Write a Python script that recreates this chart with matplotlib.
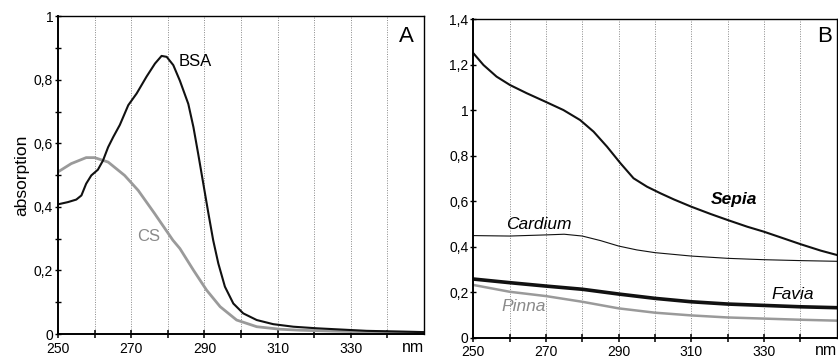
import numpy as np
import matplotlib
matplotlib.use('Agg')
import matplotlib.pyplot as plt
from matplotlib.ticker import FuncFormatter, MultipleLocator, FixedLocator

plt.rcParams['font.family'] = ['Liberation Sans', 'DejaVu Sans']

# panel A: BSA and CS
bsaX = [250, 252.7, 255, 256.4, 257.7, 259.1, 260.9, 262.3, 263.7, 265.1, 266.9, 269.2, 271.5,
        274.2, 276.5, 278.3, 279.7, 281.5, 283.3, 285.6, 287.0, 288.3, 289.7, 291.1, 292.4, 293.8,
        295.6, 297.9, 300.6, 304.3, 308.8, 314.3, 320.7, 334.3, 350]
bsaY = [0.408, 0.415, 0.423, 0.436, 0.473, 0.499, 0.517, 0.546, 0.588, 0.62, 0.658, 0.72, 0.757,
        0.81, 0.851, 0.875, 0.872, 0.846, 0.797, 0.724, 0.651, 0.567, 0.473, 0.379, 0.295, 0.222,
        0.149, 0.096, 0.065, 0.044, 0.031, 0.023, 0.018, 0.010, 0.006]
csX = [250, 253.6, 257.7, 260, 263.7, 268.2, 271.9, 276.4, 281.4, 283.3, 287, 290.6, 294.3,
       298.8, 304.3, 310.7, 316.1, 325.2, 334.3, 350]
csY = [0.510, 0.536, 0.555, 0.555, 0.541, 0.499, 0.452, 0.379, 0.295, 0.269, 0.201, 0.138, 0.086,
       0.044, 0.023, 0.015, 0.012, 0.009, 0.007, 0.005]

# panel B: shells
sepiaX = [250, 252.8, 256.4, 260.1, 264.7, 269.8, 274.8, 279.4, 283.1, 286.8, 290.5, 294.1, 297.8,
          301.5, 305.2, 310, 315.3, 319.9, 325.4, 330, 334.6, 340.1, 345.6, 350]
sepiaY = [1.251, 1.199, 1.148, 1.111, 1.075, 1.038, 1.001, 0.957, 0.906, 0.840, 0.767, 0.701, 0.664,
          0.635, 0.608, 0.576, 0.544, 0.518, 0.488, 0.466, 0.441, 0.411, 0.383, 0.364]
cardiumX = [250, 260, 270, 275, 280, 285, 290, 295, 300, 310, 320, 330, 340, 350]
cardiumY = [0.449, 0.447, 0.452, 0.455, 0.447, 0.427, 0.403, 0.386, 0.374, 0.359, 0.349, 0.343, 0.339, 0.336]
faviaX = [250, 260, 270, 280, 290, 300, 310, 320, 330, 340, 350]
faviaY = [0.258, 0.242, 0.227, 0.213, 0.192, 0.173, 0.158, 0.148, 0.142, 0.136, 0.132]
pinnaX = [250, 260, 270, 280, 290, 300, 310, 320, 330, 340, 350]
pinnaY = [0.232, 0.202, 0.183, 0.158, 0.129, 0.110, 0.098, 0.089, 0.084, 0.079, 0.075]

xLabelTicks = [250, 270, 290, 310, 330]
xOtherTicks = [260, 280, 300, 320, 340]
gridX = [260, 270, 280, 290, 300, 310, 320, 330, 340]

def commaFmt(v, pos):
    if abs(v) < 1e-9:
        return '0'
    if abs(v - round(v)) < 1e-9:
        return '%d' % round(v)
    return ('%.1f' % v).replace('.', ',')

def styleAxes(ax, ymax, minorY):
    ax.set_xlim(250, 350)
    ax.set_ylim(0, ymax)
    for x in gridX:
        ax.axvline(x, color='#888888', lw=0.7, ls=(0, (1, 1.5)), zorder=0)
    ax.xaxis.set_major_locator(FixedLocator(xLabelTicks))
    ax.xaxis.set_minor_locator(FixedLocator(xOtherTicks))
    ax.yaxis.set_major_locator(MultipleLocator(0.2))
    if minorY:
        ax.yaxis.set_minor_locator(MultipleLocator(0.1))
    else:
        ax.yaxis.set_minor_locator(FixedLocator([]))
    ax.yaxis.set_major_formatter(FuncFormatter(commaFmt))
    ax.tick_params(axis='x', which='both', direction='inout', length=6, width=1.1, pad=2.5,
                   labelsize=10)
    ax.tick_params(axis='y', which='both', direction='inout', length=5, width=1.0, pad=1,
                   labelsize=10)
    for s in ax.spines.values():
        s.set_linewidth(1.0)
    ax.spines['left'].set_linewidth(1.4)
    ax.spines['bottom'].set_linewidth(1.4)
    # unit label sits in place of the last tick label
    ax.annotate('nm', xy=(347, 0), xycoords=('data', 'axes fraction'), xytext=(0, -9.5),
                textcoords='offset points', ha='center', va='center', fontsize=11.5)

fig = plt.figure(figsize=(8.38, 3.62), dpi=100)
axA = fig.add_axes([0.0692, 0.0773, 0.4368, 0.878])
axB = fig.add_axes([0.5648, 0.0671, 0.4336, 0.8796])

styleAxes(axA, 1.0, True)
axA.plot(csX, csY, color='#9a9a9a', lw=2.0, solid_joinstyle='round', solid_capstyle='round')
axA.plot(bsaX, bsaY, color='#111111', lw=1.5, solid_joinstyle='round')
axA.text(287.4, 0.857, 'BSA', ha='center', va='center', fontsize=12)
axA.text(274.7, 0.307, 'CS', ha='center', va='center', fontsize=12, color='#8a8a8a')
axA.text(345.3, 0.935, 'A', ha='center', va='center', fontsize=16)
axA.set_ylabel('absorption', fontsize=12.5, labelpad=3)

styleAxes(axB, 1.4, False)
axB.plot(pinnaX, pinnaY, color='#9a9a9a', lw=1.8, solid_joinstyle='round')
axB.plot(faviaX, faviaY, color='#111111', lw=2.6, solid_joinstyle='round')
axB.plot(cardiumX, cardiumY, color='#111111', lw=0.8, solid_joinstyle='round')
axB.plot(sepiaX, sepiaY, color='#111111', lw=1.5, solid_joinstyle='round')
axB.text(321.7, 0.606, 'Sepia', ha='center', va='center', fontsize=12.5, style='italic', weight='bold')
axB.text(267.9, 0.496, 'Cardium', ha='center', va='center', fontsize=12.5, style='italic')
axB.text(337.8, 0.188, 'Favia', ha='center', va='center', fontsize=12.5, style='italic')
axB.text(263.8, 0.136, 'Pinna', ha='center', va='center', fontsize=12.5, style='italic', color='#8a8a8a')
axB.text(346.6, 1.324, 'B', ha='center', va='center', fontsize=16)

fig.savefig('out.png', dpi=100)
